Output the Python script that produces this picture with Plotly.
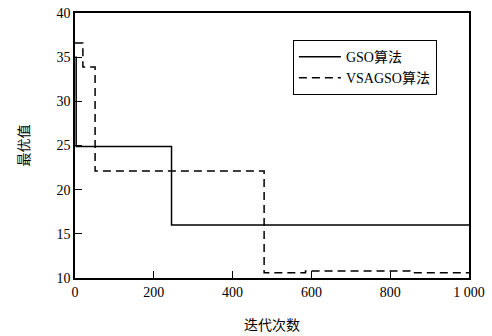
import plotly.graph_objects as go

# GSO algorithm curve (step data)
gso_x = [0, 3, 3, 245, 245, 1000]
gso_y = [35.0, 35.0, 24.9, 24.9, 16.0, 16.0]

# VSAGSO algorithm curve (step data)
vsa_x = [0, 20, 20, 51, 51, 480, 480, 585, 585, 850, 850, 1000]
vsa_y = [36.6, 36.6, 33.9, 33.9, 22.1, 22.1, 10.6, 10.6, 10.8, 10.8, 10.6, 10.6]

x_ticks = [0, 200, 400, 600, 800, 1000]
x_tick_text = ["0", "200", "400", "600", "800", "1 000"]
y_ticks = [10, 15, 20, 25, 30, 35, 40]

FONT = "Liberation Serif, Times New Roman, Noto Sans CJK SC, serif"

fig = go.Figure()
fig.add_trace(go.Scatter(x=gso_x, y=gso_y, mode="lines", name="GSO算法",
                         line=dict(color="black", width=1.5)))
fig.add_trace(go.Scatter(x=vsa_x, y=vsa_y, mode="lines", name="VSAGSO算法",
                         line=dict(color="black", width=1.5, dash="8px,5px")))

fig.update_layout(
    width=492, height=336,
    margin=dict(l=75, r=23, t=13, b=58),
    plot_bgcolor="white", paper_bgcolor="white",
    font=dict(family=FONT, size=14, color="black"),
    showlegend=True,
    legend=dict(x=0.553, y=0.898, xanchor="left", yanchor="top",
                bordercolor="black", borderwidth=1, bgcolor="white",
                font=dict(family=FONT, size=14, color="black"), tracegroupgap=0,
                itemwidth=42),
)
fig.update_xaxes(range=[0, 1000], tickvals=x_ticks, ticktext=x_tick_text,
                 ticks="inside", ticklen=7, tickcolor="black", tickwidth=1,
                 tickfont=dict(family=FONT, size=14, color="black"),
                 showline=True, linecolor="black", linewidth=1.5, mirror=True,
                 showgrid=False, zeroline=False, automargin=False,
                 title=dict(text="迭代次数", font=dict(family=FONT, size=14, color="black"), standoff=22))
fig.update_yaxes(range=[10, 40], tickvals=y_ticks,
                 ticks="inside", ticklen=7, tickcolor="black", tickwidth=1,
                 tickfont=dict(family=FONT, size=14, color="black"),
                 showline=True, linecolor="black", linewidth=1.5, mirror=True,
                 showgrid=False, zeroline=False, automargin=False,
                 title=dict(text="最优值", font=dict(family=FONT, size=14, color="black"), standoff=24))

fig.write_html("out.html")
